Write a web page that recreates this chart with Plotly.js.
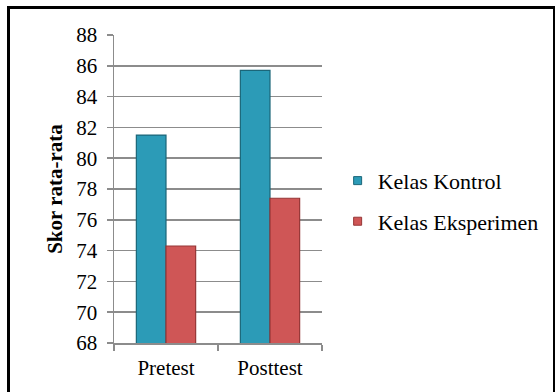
<!DOCTYPE html>
<html>
<head>
<meta charset="utf-8">
<script src="https://cdn.plot.ly/plotly-3.0.1.min.js"></script>
<style>
  html, body { margin: 0; padding: 0; background: #fff; }
  #wrap { position: relative; width: 555px; height: 392px; overflow: hidden; }
  #chart { width: 555px; height: 392px; }
  #frame { position: absolute; left: 7px; top: 6px; width: 543px; height: 400px;
           border: 3px solid #000; pointer-events: none; }
</style>
</head>
<body>
<div id="wrap">
  <div id="chart"></div>
  <div id="frame"></div>
</div>
<script>
const categories = ["Pretest", "Posttest"];
const kontrol = [81.5, 85.7];
const eksperimen = [74.3, 77.4];
const seriesNames = ["Kelas Kontrol", "Kelas Eksperimen"];
const seriesColors = ["#2C9BB7", "#CF5656"];
const seriesEdges = ["#1B6679", "#963636"];
const yTickVals = [68, 70, 72, 74, 76, 78, 80, 82, 84, 86, 88];

const FONT = "Liberation Serif";
const FS = 21;

const traces = [
  {
    type: "bar", x: categories, y: kontrol, name: seriesNames[0], showlegend: false,
    marker: { color: seriesColors[0], line: { color: seriesEdges[0], width: 1.2 } }
  },
  {
    type: "bar", x: categories, y: eksperimen, name: seriesNames[1], showlegend: false,
    marker: { color: seriesColors[1], line: { color: seriesEdges[1], width: 1.2 } }
  },
  {
    type: "scatter", mode: "markers", x: [null], y: [null], name: seriesNames[0], legendgroup: "a",
    marker: { symbol: "square", size: 8, color: seriesColors[0], line: { color: seriesEdges[0], width: 1 } }
  },
  {
    type: "scatter", mode: "markers", x: [null], y: [null], name: seriesNames[1], legendgroup: "b",
    marker: { symbol: "square", size: 8, color: seriesColors[1], line: { color: seriesEdges[1], width: 1 } }
  }
];

const layout = {
  width: 555, height: 392,
  margin: { l: 114, r: 232, t: 35, b: 49 },
  paper_bgcolor: "#fff", plot_bgcolor: "#fff",
  barmode: "group", bargap: 0.43, bargroupgap: 0,
  showlegend: true,
  legend: {
    x: 1.07, xanchor: "left", y: 0.46, yanchor: "middle",
    font: { family: FONT, size: 22, color: "#000" },
    traceorder: "grouped", tracegroupgap: 9, itemwidth: 30
  },
  xaxis: {
    type: "category", showgrid: false, showline: true, linecolor: "#8C8C8C", linewidth: 1.5,
    ticks: "outside", tickson: "boundaries", ticklen: 6, tickcolor: "#8C8C8C", tickwidth: 1.5,
    tickfont: { family: FONT, size: FS, color: "#000" }, ticklabelstandoff: 5
  },
  yaxis: {
    range: [68, 88], tickvals: yTickVals, ticktext: yTickVals.map(String),
    showgrid: true, gridcolor: "#8C8C8C", gridwidth: 1.5,
    showline: true, linecolor: "#8C8C8C", linewidth: 1.5,
    ticks: "outside", ticklen: 6, tickcolor: "#8C8C8C", tickwidth: 1.5,
    tickfont: { family: FONT, size: FS, color: "#000" }, ticklabelstandoff: 5,
    zeroline: false,
    title: { text: "<b>Skor rata-rata</b>", font: { family: FONT, size: FS, color: "#000" }, standoff: 8 }
  }
};

Plotly.newPlot("chart", traces, layout, { displayModeBar: false, staticPlot: true });
</script>
</body>
</html>
